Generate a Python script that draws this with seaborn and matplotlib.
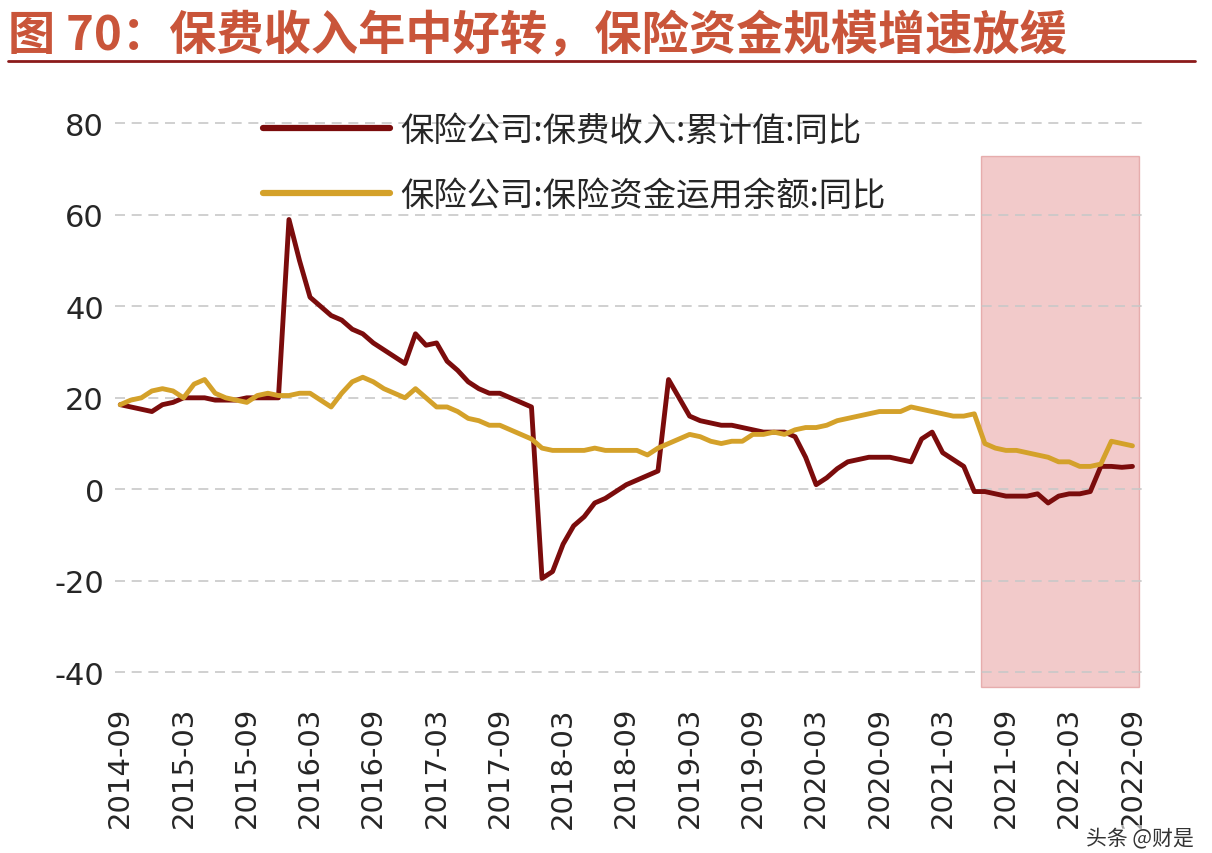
import numpy as np
import pandas as pd
import seaborn as sns
import matplotlib
matplotlib.use("Agg")
import matplotlib.pyplot as plt
from matplotlib.patches import Rectangle
from matplotlib.lines import Line2D

sns.set_style("white")
plt.rcParams['font.family'] = ['Noto Sans CJK SC', 'DejaVu Sans']
plt.rcParams['axes.unicode_minus'] = False

months = pd.date_range("2014-09-01", "2022-09-01", freq="MS").strftime("%Y-%m").tolist()
premium = [18.5,18,17.5,17,18.5,19,20,20,20,19.5,19.5,19.5,20,20,20,20,
           59,50,42,40,38,37,35,34,32,30.5,29,27.5,34,31.5,32,28,26,23.5,22,21,21,20,19,18,
           -19.5,-18,-12,-8,-6,-3,-2,-0.5,1,2,3,4,
           24,20,16,15,14.5,14,14,13.5,13,12.5,12.5,12.5,
           11.5,7,1,2.5,4.5,6,6.5,7,7,7,6.5,6,
           11,12.5,8,6.5,5,-0.5,-0.5,-1,-1.5,-1.5,-1.5,-1,
           -3,-1.5,-1,-1,-0.5,5,5,4.8,5]
funds = [18.5,19.5,20,21.5,22,21.5,20,23,24,21,20,19.5,19,20.5,21,20.5,20.5,21,21,19.5,
         18,21,23.5,24.5,23.5,22,21,20,22,20,18,18,17,15.5,15,14,14,13,12,11,
         9,8.5,8.5,8.5,8.5,9,8.5,8.5,8.5,8.5,7.5,9,10,11,12,11.5,10.5,10,10.5,10.5,
         12,12,12.5,12,13,13.5,13.5,14,15,15.5,16,16.5,17,17,17,18,17.5,17,16.5,16,
         16,16.5,10,9,8.5,8.5,8,7.5,7,6,6,5,5,5.5,10.5,10,9.5]
s1 = "保险公司:保费收入:累计值:同比"
s2 = "保险公司:保险资金运用余额:同比"
yticks = [-40, -20, 0, 20, 40, 60, 80]

df = pd.DataFrame({"idx": np.arange(len(months)), s1: premium, s2: funds})
long = df.melt(id_vars="idx", var_name="series", value_name="v")

fig = plt.figure(figsize=(12.12, 8.54), dpi=100)
ax = fig.add_axes([115/1212, 0.185, (1143-115)/1212, 0.696])
ax.add_patch(Rectangle((81.6, -43.3), 15.0, 116.1, facecolor="#e8a0a0", edgecolor="#d88080", alpha=0.55, lw=1, zorder=0))
sns.lineplot(data=long, x="idx", y="v", hue="series", palette=["#7b0c0c", "#d4a12a"],
             linewidth=3.5, ax=ax, legend=False, zorder=3)
ax.set_xlim(-0.5, 97)
ax.set_ylim(-45, 85)
ax.set_yticks(yticks)
ax.set_yticklabels([str(t) for t in yticks], fontsize=22, family="DejaVu Sans")
ax.set_xticks(range(0, len(months), 6))
ax.set_xticklabels(months[::6], rotation=90, fontsize=21, family="DejaVu Sans")
for t in yticks:
    ax.axhline(t, color="#c8c8c8", lw=1.2, ls=(0, (6, 4)), zorder=1)
for s in ax.spines.values():
    s.set_visible(False)
ax.set_xlabel(""); ax.set_ylabel("")
ax.tick_params(length=0, pad=8)
handles = [Line2D([], [], color="#7b0c0c", lw=4.5), Line2D([], [], color="#d4a12a", lw=4.5)]
ax.legend(handles, [s1, s2], loc="upper left", bbox_to_anchor=(0.115, 1.03), frameon=False,
          fontsize=24, handlelength=3.8, labelspacing=0.9, handletextpad=0.3)
fig.text(0.007, 0.958, "图 70：保费收入年中好转，保险资金规模增速放缓", color="#c9553a",
         fontsize=34, fontweight="bold", va="center")
fig.add_artist(Line2D([8/1212, 1195/1212], [1-62/854]*2, color="#8b1a1a", lw=2))
fig.text(0.985, 0.005, "头条 @财是", fontsize=15, color="#333333", ha="right", va="bottom",
         bbox=dict(facecolor="white", edgecolor="none", alpha=0.6, pad=1))
fig.savefig("out.png", dpi=100)
